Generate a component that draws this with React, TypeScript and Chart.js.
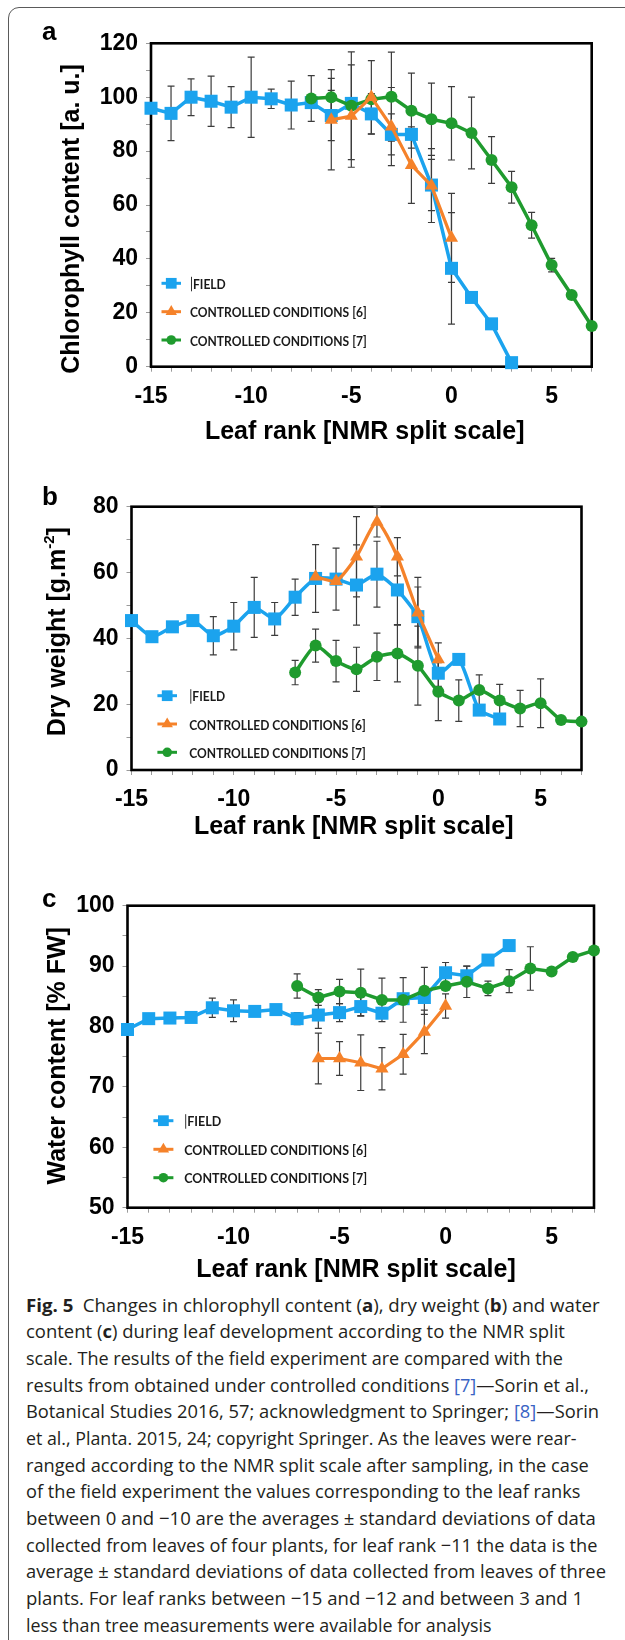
import React, { useEffect, useLayoutEffect, useRef } from "react";
import { Chart, registerables } from "chart.js";

Chart.register(...registerables);

// ---------------- data ----------------
// leaf ranks (NMR split scale)
const fieldRanks = [-15, -14, -13, -12, -11, -10, -9, -8, -7, -6, -5, -4, -3, -2, -1, 0, 1, 2, 3];
const cc6Ranks = [-6, -5, -4, -3, -2, -1, 0];
const cc7Ranks = [-7, -6, -5, -4, -3, -2, -1, 0, 1, 2, 3, 4, 5, 6, 7];

// panel a: chlorophyll content [a. u.]
const chlField = [95.9, 94.0, 100, 98.5, 96.3, 100, 99.4, 97.1, 98, 93.2, 97.7, 93.8, 86.2, 86.2, 67.4, 36.5, 25.7, 15.9, 1.5];
const chlFieldErr = [null, 10.1, 6.8, 9.3, 7.6, 14.9, 3.6, 8.9, null, 9.3, null, 7.5, 7.6, null, 9.5, 20.7, null, null, null];
const chlCc6 = [91.6, 93, 100, 89.1, 74.8, 67.2, 47.8];
const chlCc6Err = [18.6, 19, 13.6, 14.5, 14.2, 13.7, 16.5];
const chlCc7 = [99.5, 100, 96.8, 99.2, 100.2, 95, 91.8, 90.3, 86.7, 76.7, 66.6, 52.5, 37.7, 26.6, 15.1];
const chlCc7Err = [8.5, 7, 20, null, 16.5, 13.9, 13.4, 13.6, 13.3, 8.7, 5.9, 4.8, 2.5, null, null];

// panel b: dry weight [g.m-2]
const dwField = [45.4, 40.5, 43.5, 45.4, 40.8, 43.7, 49.4, 45.9, 52.5, 58.2, 58.0, 56.2, 59.5, 54.7, 46.6, 29.4, 33.6, 18.2, 15.5];
const dwFieldErr = [null, null, null, null, 5.8, 7.2, 9.1, 5, 5.5, 10.3, 9.4, 12.2, 10, 10.5, 9, 4, null, null, null];
const dwCc6 = [58.7, 57.4, 64.8, 75.4, 64.8, 47.8, 33.6];
const dwCc6Err = [null, null, 12.2, 4.6, 5.8, 10.7, 5];
const dwCc7 = [29.6, 37.8, 33.1, 30.6, 34.4, 35.4, 31.7, 23.8, 21.1, 24.3, 21.1, 18.7, 20.3, 15.2, 14.7];
const dwCc7Err = [3.7, 5, 6.3, 6.7, 7.2, 8.6, 12, 8.8, 6.3, 4.6, 4.9, 5.5, 7.4, null, null];

// panel c: water content [% FW]
const wcField = [79.5, 81.3, 81.4, 81.5, 83.1, 82.6, 82.5, 82.8, 81.3, 81.9, 82.3, 83.3, 82.2, 84.6, 84.8, 88.9, 88.4, 91, 93.4];
const wcFieldErr = [null, null, null, null, 1.6, 1.8, null, null, 1, 2.2, 1.5, 1.5, null, null, null, 1.7, 1.6, null, null];
const wcCc6 = [74.7, 74.7, 74.0, 73, 75.4, 79.1, 83.4];
const wcCc6Err = [4.2, 2.8, 4.6, 3.5, 3.3, 3.6, 2];
const wcCc7 = [86.7, 84.8, 85.8, 85.6, 84.4, 84.4, 85.9, 86.7, 87.4, 86.3, 87.5, 89.6, 89.1, 91.5, 92.6];
const wcCc7Err = [2, 1.3, 2, 3.9, 3.6, 3.7, 3.9, null, 2.6, 1.2, 1.9, 3.6, null, null, null];

const seriesLabels = ["FIELD", "CONTROLLED CONDITIONS [6]", "CONTROLLED CONDITIONS [7]"];
const xAxisTitle = "Leaf rank [NMR split scale]";

// ---------------- styles ----------------
const BLUE = "#1ba3ee";
const ORANGE = "#f5822a";
const GREEN = "#1f9b2e";
const BOLD_FONT = '"Liberation Sans", Arial, Helvetica, sans-serif';
const LEGEND_FONT = 'Lato, "Open Sans", sans-serif';
const YW = 60;
const XH = 40;
const PAGE_W = 625;

type PanelDef = {
  top: number;
  height: number;
  area: { left: number; top: number; right: number; bottom: number };
  yMin: number;
  yMax: number;
  yStep: number;
  yLabelEvery: number;
  tension: number;
  letter: string;
  letterX: number;
  letterBase: number;
  yTitle: string;
  yTitleSup?: string;
  yTitleAfter?: string;
  yTitleX: number;
  yTitleY: number;
  xTitleX: number;
  xTitleY: number;
  legendRows: number[];
  legendLine: [number, number];
  legendTextX: number;
  legendWidth: number;
  field: number[];
  fieldErr: (number | null)[];
  cc6: number[];
  cc6Err: (number | null)[];
  cc7: number[];
  cc7Err: (number | null)[];
};

const panels: PanelDef[] = [
  {
    top: 0,
    height: 470,
    area: { left: 151, top: 43.3, right: 591.7, bottom: 366.7 },
    yMin: 0, yMax: 120, yStep: 10, yLabelEvery: 20, tension: 0,
    letter: "a", letterX: 42, letterBase: 40,
    yTitle: "Chlorophyll content [a. u.]",
    yTitleX: 71.7, yTitleY: 219,
    xTitleX: 364.7, xTitleY: 431.7,
    legendRows: [283.3, 311.7, 340], legendLine: [161.5, 181], legendTextX: 190, legendWidth: 176.7,
    field: chlField, fieldErr: chlFieldErr, cc6: chlCc6, cc6Err: chlCc6Err, cc7: chlCc7, cc7Err: chlCc7Err,
  },
  {
    top: 470,
    height: 410,
    area: { left: 131.5, top: 506.7, right: 581.5, bottom: 770 },
    yMin: 0, yMax: 80, yStep: 10, yLabelEvery: 20, tension: 0.2,
    letter: "b", letterX: 42, letterBase: 505,
    yTitle: "Dry weight [g.m", yTitleSup: "-2", yTitleAfter: "]",
    yTitleX: 57.8, yTitleY: 631.7,
    xTitleX: 353.7, xTitleY: 826.7,
    legendRows: [695.7, 724, 752.3], legendLine: [157.4, 177], legendTextX: 189.3, legendWidth: 176.6,
    field: dwField, fieldErr: dwFieldErr, cc6: dwCc6, cc6Err: dwCc6Err, cc7: dwCc7, cc7Err: dwCc7Err,
  },
  {
    top: 880,
    height: 410,
    area: { left: 127.5, top: 905.7, right: 594, bottom: 1207.7 },
    yMin: 50, yMax: 100, yStep: 5, yLabelEvery: 10, tension: 0,
    letter: "c", letterX: 42, letterBase: 906.7,
    yTitle: "Water content [% FW]",
    yTitleX: 57.8, yTitleY: 1055.8,
    xTitleX: 356, xTitleY: 1270,
    legendRows: [1120.7, 1149.3, 1177.7], legendLine: [153.4, 173.4], legendTextX: 184.2, legendWidth: 183,
    field: wcField, fieldErr: wcFieldErr, cc6: wcCc6, cc6Err: wcCc6Err, cc7: wcCc7, cc7Err: wcCc7Err,
  },
];

function drawMarker(ctx: CanvasRenderingContext2D, style: string, x: number, y: number, color: string, r: number) {
  ctx.fillStyle = color;
  ctx.beginPath();
  if (style === "rect") {
    const s = r * Math.SQRT1_2;
    ctx.rect(x - s, y - s, 2 * s, 2 * s);
  } else if (style === "triangle") {
    ctx.moveTo(x, y - r);
    ctx.lineTo(x + r * 0.866, y + r * 0.5);
    ctx.lineTo(x - r * 0.866, y + r * 0.5);
    ctx.closePath();
  } else {
    ctx.arc(x, y, r, 0, Math.PI * 2);
  }
  ctx.fill();
}

const framePlugin = {
  id: "frameAndErrors",
  beforeDatasetsDraw(chart: any) {
    const { ctx, chartArea } = chart;
    const xs = chart.scales.x;
    const ys = chart.scales.y;
    ctx.save();
    // plot frame
    ctx.strokeStyle = "#000";
    ctx.lineWidth = 2.6;
    ctx.strokeRect(chartArea.left, chartArea.top, chartArea.right - chartArea.left, chartArea.bottom - chartArea.top);
    // error bars
    ctx.strokeStyle = "#3c3c3c";
    ctx.lineWidth = 1.2;
    chart.data.datasets.forEach((ds: any) => {
      const errs = ds.errors as (number | null)[];
      if (!errs) return;
      ds.data.forEach((p: any, i: number) => {
        const e = errs[i];
        if (e == null) return;
        const x = xs.getPixelForValue(p.x);
        const y1 = ys.getPixelForValue(p.y + e);
        const y2 = ys.getPixelForValue(p.y - e);
        ctx.beginPath();
        ctx.moveTo(x, y1);
        ctx.lineTo(x, y2);
        ctx.moveTo(x - 3.5, y1);
        ctx.lineTo(x + 3.5, y1);
        ctx.moveTo(x - 3.5, y2);
        ctx.lineTo(x + 3.5, y2);
        ctx.stroke();
      });
    });
    ctx.restore();
  },
};

const decoPlugin = {
  id: "deco",
  afterDraw(chart: any, _args: any, opts: any) {
    const p: PanelDef = opts.panel;
    if (!p) return;
    const ctx: CanvasRenderingContext2D = chart.ctx;
    const off = p.top;
    ctx.save();
    ctx.fillStyle = "#000";
    // panel letter
    ctx.font = `bold 26px ${BOLD_FONT}`;
    ctx.textAlign = "left";
    ctx.textBaseline = "alphabetic";
    ctx.fillText(p.letter, p.letterX, p.letterBase - off);
    // x title
    ctx.font = `bold 25px ${BOLD_FONT}`;
    ctx.textAlign = "center";
    ctx.textBaseline = "middle";
    ctx.fillText(xAxisTitle, p.xTitleX, p.xTitleY - off);
    // y title (rotated)
    ctx.save();
    ctx.translate(p.yTitleX, p.yTitleY - off);
    ctx.rotate(-Math.PI / 2);
    ctx.textAlign = "left";
    const mainFont = `bold 25px ${BOLD_FONT}`;
    const supFont = `bold 15px ${BOLD_FONT}`;
    ctx.font = mainFont;
    const w1 = ctx.measureText(p.yTitle).width;
    let w2 = 0;
    let w3 = 0;
    if (p.yTitleSup) {
      ctx.font = supFont;
      w2 = ctx.measureText(p.yTitleSup).width;
      ctx.font = mainFont;
      w3 = ctx.measureText(p.yTitleAfter || "").width;
    }
    let x = -(w1 + w2 + w3) / 2;
    ctx.font = mainFont;
    ctx.fillText(p.yTitle, x, 0);
    x += w1;
    if (p.yTitleSup) {
      ctx.font = supFont;
      ctx.fillText(p.yTitleSup, x, -8);
      x += w2;
      ctx.font = mainFont;
      ctx.fillText(p.yTitleAfter || "", x, 0);
    }
    ctx.restore();

    // legend
    const styles = ["rect", "triangle", "circle"];
    const colors = [BLUE, ORANGE, GREEN];
    const mRad = [7.6, 6.6, 4.8];
    ctx.font = `bold 14px ${LEGEND_FONT}`;
    const natural = ctx.measureText(seriesLabels[1]).width;
    const k = p.legendWidth / natural;
    seriesLabels.forEach((lab, i) => {
      const y = p.legendRows[i] - off;
      const [l0, l1] = p.legendLine;
      ctx.strokeStyle = colors[i];
      ctx.lineWidth = 3;
      ctx.beginPath();
      ctx.moveTo(l0, y);
      ctx.lineTo(l1, y);
      ctx.stroke();
      drawMarker(ctx, styles[i], (l0 + l1) / 2, y, colors[i], mRad[i]);
      ctx.save();
      ctx.fillStyle = "#1a1a1a";
      ctx.translate(p.legendTextX + (i === 0 ? 3 : 0), y);
      ctx.scale(k, 1);
      ctx.textAlign = "left";
      ctx.textBaseline = "middle";
      ctx.font = `bold 14px ${LEGEND_FONT}`;
      ctx.fillText(lab, 0, 1);
      ctx.restore();
      if (i === 0) {
        ctx.strokeStyle = "#333";
        ctx.lineWidth = 1;
        ctx.beginPath();
        ctx.moveTo(p.legendTextX + 1.5, y - 6.5);
        ctx.lineTo(p.legendTextX + 1.5, y + 8);
        ctx.stroke();
      }
    });
    ctx.restore();
  },
};

function pts(xs: number[], ys: number[]) {
  return xs.map((x, i) => ({ x, y: ys[i] }));
}

function Panel({ p }: { p: PanelDef }) {
  const ref = useRef<HTMLCanvasElement | null>(null);
  useEffect(() => {
    if (!ref.current) return;
    const tickFont = { family: BOLD_FONT, size: 23, weight: "bold" as const };
    const common = { showLine: true, clip: false as any, pointBorderWidth: 0, tension: p.tension };
    const chart = new Chart(ref.current, {
      type: "line",
      data: {
        datasets: [
          {
            ...common,
            label: seriesLabels[1],
            data: pts(cc6Ranks, p.cc6),
            errors: p.cc6Err,
            borderColor: ORANGE,
            backgroundColor: ORANGE,
            pointBackgroundColor: ORANGE,
            borderWidth: 3.2,
            pointStyle: "triangle",
            pointRadius: 7.6,
            order: 0,
          } as any,
          {
            ...common,
            label: seriesLabels[2],
            data: pts(cc7Ranks, p.cc7),
            errors: p.cc7Err,
            borderColor: GREEN,
            backgroundColor: GREEN,
            pointBackgroundColor: GREEN,
            borderWidth: 3.5,
            pointStyle: "circle",
            pointRadius: 6,
            order: 1,
          } as any,
          {
            ...common,
            label: seriesLabels[0],
            data: pts(fieldRanks, p.field),
            errors: p.fieldErr,
            borderColor: BLUE,
            backgroundColor: BLUE,
            pointBackgroundColor: BLUE,
            borderWidth: 3.5,
            pointStyle: "rect",
            pointRadius: 9.2,
            order: 2,
          } as any,
        ],
      },
      options: {
        animation: false,
        responsive: false,
        maintainAspectRatio: false,
        devicePixelRatio: 1,
        layout: {
          padding: {
            left: p.area.left - YW,
            top: p.area.top - p.top,
            right: PAGE_W - p.area.right,
            bottom: p.top + p.height - p.area.bottom - XH,
          },
        },
        plugins: {
          legend: { display: false },
          tooltip: { enabled: false },
          deco: { panel: p },
        } as any,
        scales: {
          x: {
            type: "linear",
            min: -15,
            max: 7,
            afterFit: (s: any) => {
              s.height = XH;
            },
            ticks: {
              stepSize: 1,
              autoSkip: false,
              maxRotation: 0,
              padding: 11,
              color: "#000",
              font: tickFont,
              callback: (v: any) => (Number(v) % 5 === 0 ? String(v) : ""),
            },
            grid: { display: true, drawOnChartArea: false, drawTicks: true, tickLength: 5, color: "#9a9a9a", lineWidth: 1 },
            border: { display: false },
          },
          y: {
            type: "linear",
            min: p.yMin,
            max: p.yMax,
            afterFit: (s: any) => {
              s.width = YW;
            },
            ticks: {
              stepSize: p.yStep,
              autoSkip: false,
              padding: 8,
              color: "#000",
              font: tickFont,
              callback: (v: any) => (Number(v) % p.yLabelEvery === 0 ? String(v) : ""),
            },
            grid: { display: true, drawOnChartArea: false, drawTicks: true, tickLength: 5, color: "#9a9a9a", lineWidth: 1 },
            border: { display: false },
          },
        } as any,
      },
      plugins: [framePlugin, decoPlugin],
    });
    return () => chart.destroy();
  }, [p]);
  return (
    <canvas
      ref={ref}
      width={PAGE_W}
      height={p.height}
      style={{ position: "absolute", left: 0, top: p.top, width: PAGE_W, height: p.height }}
    />
  );
}

// ---------------- caption ----------------
const LINK = "#3a63c4";
const captionLines: React.ReactNode[] = [
  <>
    <b style={{ fontWeight: 700 }}>Fig. 5</b>
    {"\u2002Changes in chlorophyll content ("}
    <b>a</b>
    {"), dry weight ("}
    <b>b</b>
    {") and water"}
  </>,
  <>
    {"content ("}
    <b>c</b>
    {") during leaf development according to the NMR split"}
  </>,
  <>scale. The results of the field experiment are compared with the</>,
  <>
    {"results from obtained under controlled conditions "}
    <span style={{ color: LINK }}>[7]</span>
    {"\u2014Sorin et al.,"}
  </>,
  <>
    {"Botanical Studies 2016, 57; acknowledgment to Springer; "}
    <span style={{ color: LINK }}>[8]</span>
    {"\u2014Sorin"}
  </>,
  <>et al., Planta. 2015, 24; copyright Springer. As the leaves were rear-</>,
  <>ranged according to the NMR split scale after sampling, in the case</>,
  <>of the field experiment the values corresponding to the leaf ranks</>,
  <>between 0 and {"\u2212"}10 are the averages ± standard deviations of data</>,
  <>collected from leaves of four plants, for leaf rank {"\u2212"}11 the data is the</>,
  <>average ± standard deviations of data collected from leaves of three</>,
  <>plants. For leaf ranks between {"\u2212"}15 and {"\u2212"}12 and between 3 and 1</>,
  <>less than tree measurements were available for analysis</>,
];
const captionWidths = [574, 539, 537, 563, 573, 550, 563, 554, 570, 571, 580, 557, 466];
const CAPTION_LEFT = 26;
const CAPTION_TOP = 1291.7;
const CAPTION_LH = 26.67;

function Caption() {
  const refs = useRef<(HTMLDivElement | null)[]>([]);
  useLayoutEffect(() => {
    const fit = () => {
      refs.current.forEach((el, i) => {
        if (!el) return;
        el.style.transform = "none";
        const w = el.scrollWidth;
        if (w > 0) el.style.transform = `scaleX(${captionWidths[i] / w})`;
      });
    };
    fit();
    if ((document as any).fonts && (document as any).fonts.ready) {
      (document as any).fonts.ready.then(fit);
    }
  }, []);
  return (
    <>
      {captionLines.map((line, i) => (
        <div
          key={i}
          ref={(el) => {
            refs.current[i] = el;
          }}
          style={{
            position: "absolute",
            left: CAPTION_LEFT,
            top: CAPTION_TOP + i * CAPTION_LH,
            height: CAPTION_LH,
            lineHeight: `${CAPTION_LH}px`,
            whiteSpace: "nowrap",
            display: "inline-block",
            transformOrigin: "0 50%",
            fontFamily: '"Open Sans", "Noto Sans", sans-serif',
            fontSize: 18.5,
            color: "#231f20",
          }}
        >
          {line}
        </div>
      ))}
    </>
  );
}

export default function App() {
  return (
    <div
      style={{
        position: "absolute",
        left: 0,
        top: 0,
        width: PAGE_W,
        height: 1640,
        overflow: "hidden",
        background: "#fff",
      }}
    >
      <div
        style={{
          position: "absolute",
          left: 8,
          top: 7,
          width: 700,
          height: 1700,
          border: "1.3px solid #5a5a5a",
          borderRadius: 11,
        }}
      />
      {panels.map((p) => (
        <Panel key={p.letter} p={p} />
      ))}
      <Caption />
    </div>
  );
}
